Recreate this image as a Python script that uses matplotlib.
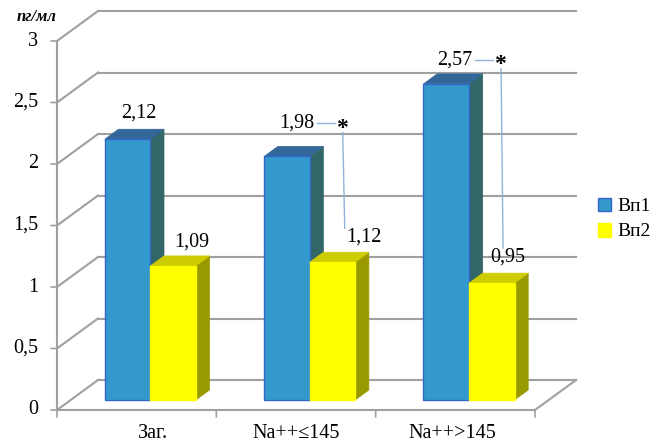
import matplotlib.pyplot as plt
from matplotlib.patches import Polygon, Patch
from matplotlib.lines import Line2D
from matplotlib.transforms import IdentityTransform

plt.rcParams['font.family'] = ['Liberation Serif', 'DejaVu Serif']

categories = ['Заг.', 'Na++≤145', 'Na++>145']
vp1 = [2.12, 1.98, 2.57]
vp2 = [1.09, 1.12, 0.95]
vp1_labels = ['2,12', '1,98', '2,57']
vp2_labels = ['1,09', '1,12', '0,95']
marked = [False, True, True]          # significance star between Вп1 and Вп2
yticks = [0, 0.5, 1, 1.5, 2, 2.5, 3]
ytick_labels = ['0', '0,5', '1', '1,5', '2', '2,5', '3']

# 3d look: depth offset of the back wall in data units
DEPTH_X = 0.2573
DEPTH_Y = 0.2439
BAR_D0, BAR_D1 = 0.333, 0.667
BAR_W = 1 / 3.5
GAP = (1 - 2 * BAR_W) / 2

GRID = '#a0a0a0'
blue = ('#3399cc', '#336699', '#336666')
yellow = ('#ffff00', '#cccc00', '#999900')

fig = plt.figure(figsize=(6.54, 4.46), dpi=100)
ax = fig.add_axes([57 / 654, 36 / 446, 478 / 654, 369 / 446])
ax.set_xlim(0, 3)
ax.set_ylim(0, 3)
ax.axis('off')


def proj(x, y, d):
    return x + d * DEPTH_X, y + d * DEPTH_Y


def seg(p, q, **kw):
    ax.plot([p[0], q[0]], [p[1], q[1]], clip_on=False, **kw)


# walls and floor
for v in yticks:
    seg(proj(0, v, 0), proj(0, v, 1), color=GRID, lw=1.5, zorder=1)
    seg(proj(0, v, 1), proj(3, v, 1), color=GRID, lw=1.5, zorder=1)
    ax.annotate('', (0, v), xytext=(-6, 0), textcoords='offset pixels',
                arrowprops=dict(arrowstyle='-', color=GRID, lw=1.2,
                                shrinkA=0, shrinkB=0))
seg(proj(0, 0, 0), proj(3, 0, 0), color=GRID, lw=1.5, zorder=1)
seg(proj(3, 0, 0), proj(3, 0, 1), color=GRID, lw=1.5, zorder=1)
seg((0, 0), (0, 3), color=GRID, lw=1.5, zorder=1)
for i in range(4):
    ax.annotate('', (i, 0), xytext=(0, -7), textcoords='offset pixels',
                arrowprops=dict(arrowstyle='-', color=GRID, lw=1.2,
                                shrinkA=0, shrinkB=0))

for v, lab in zip(yticks, ytick_labels):
    ax.annotate(lab, (0, v), xytext=(-19, 0), textcoords='offset pixels',
                ha='right', va='center', fontsize=14.5)

cat_dx = [16, 0, -3]
for i, (name, dx) in enumerate(zip(categories, cat_dx)):
    ax.annotate(name, (i + 0.5, 0), xytext=(dx, -23), textcoords='offset pixels',
                ha='center', va='center', fontsize=14.5)


def bar3d(x0, v, colors, edge):
    x1 = x0 + BAR_W
    front = [proj(x0, 0, BAR_D0), proj(x1, 0, BAR_D0), proj(x1, v, BAR_D0), proj(x0, v, BAR_D0)]
    top = [proj(x0, v, BAR_D0), proj(x1, v, BAR_D0), proj(x1, v, BAR_D1), proj(x0, v, BAR_D1)]
    side = [proj(x1, 0, BAR_D0), proj(x1, 0, BAR_D1), proj(x1, v, BAR_D1), proj(x1, v, BAR_D0)]
    ax.add_patch(Polygon(side, closed=True, fc=colors[2], ec=colors[2], lw=0.5, zorder=3))
    ax.add_patch(Polygon(top, closed=True, fc=colors[1], ec=colors[1], lw=0.5, zorder=3))
    ax.add_patch(Polygon(front, closed=True, fc=colors[0], ec=edge, lw=1, zorder=3))


# label offsets in pixels from the middle of each bar top
off1 = [(4, 21), (3, 28), (2, 19)]
off2 = [(12, 19), (25, 20), (9, 21)]

lab_pos1, lab_pos2 = [], []
for i in range(3):
    xa = i + GAP
    xb = xa + BAR_W
    bar3d(xa, vp1[i], blue, '#3366cc')
    bar3d(xb, vp2[i], yellow, '#ffff00')
    for x0, v, lab, off, store in ((xa, vp1[i], vp1_labels[i], off1[i], lab_pos1),
                                   (xb, vp2[i], vp2_labels[i], off2[i], lab_pos2)):
        anchor = proj(x0 + BAR_W / 2, v, 0.5)
        ax.annotate(lab, anchor, xytext=off, textcoords='offset pixels',
                    ha='center', va='center', fontsize=14.5, zorder=5)
        px, py = ax.transData.transform(anchor)
        store.append((px + off[0], py + off[1]))

# star connectors
LINE = '#8fb3d9'
for i in range(3):
    if not marked[i]:
        continue
    lx, ly = lab_pos1[i]
    sx, sy = lx + 45, ly - 3
    fig.add_artist(Line2D([lx + 20, lx + 38], [ly, ly], color=LINE, lw=1,
                          transform=IdentityTransform()))
    fig.text(sx / 654, (sy - 2) / 446, '*', ha='center', va='center',
             fontsize=17, fontweight='bold')
    yx, yy = lab_pos2[i]
    fig.add_artist(Line2D([sx + 1, sx + 3], [sy - 6, yy + 9], color=LINE, lw=1,
                          transform=IdentityTransform()))

fig.text(37 / 654, 1 - 17 / 446, 'пг/мл', ha='center', va='center',
         fontsize=12, style='italic', fontweight='bold')

handles = [Patch(fc=blue[0], ec='#3366cc'), Patch(fc=yellow[0], ec=yellow[0])]
fig.legend(handles, ['Вп1', 'Вп2'], loc='center left',
           bbox_to_anchor=(584 / 654, 1 - 219 / 446), frameon=False,
           fontsize=14, handlelength=0.7, handleheight=0.7,
           handletextpad=0.3, labelspacing=0.4, borderpad=0.2)

fig.savefig('out.png', dpi=100)
